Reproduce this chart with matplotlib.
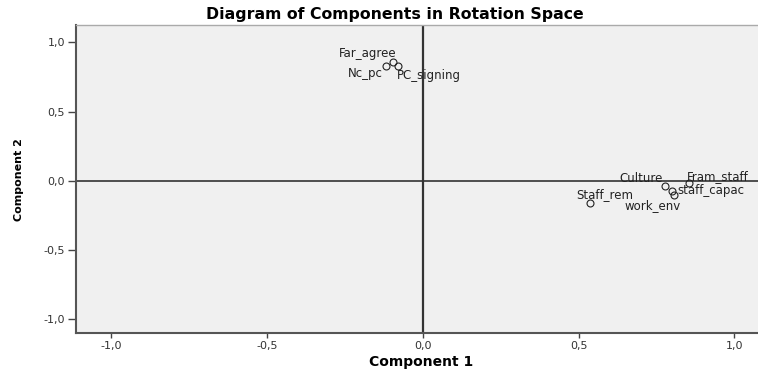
import matplotlib
matplotlib.use("Agg")
import matplotlib.pyplot as plt

# Data
labels = ["Far_agree", "Nc_pc", "PC_signing", "Culture", "Fram_staff",
          "staff_capac", "Staff_rem", "work_env"]
comp1 = [-0.097, -0.117, -0.080, 0.778, 0.855, 0.800, 0.537, 0.807]
comp2 = [0.859, 0.831, 0.826, -0.040, -0.017, -0.074, -0.161, -0.105]
ticks = [-1.0, -0.5, 0.0, 0.5, 1.0]
tick_labels = ["-1,0", "-0,5", "0,0", "0,5", "1,0"]

# label placement (pixel offsets, alignment)
label_offsets = [(4, 8), (-4, -8), (-1, -9), (-3, 8), (-2, 7), (5, 0), (-14, 8), (6, -10)]
label_ha = ["right", "right", "left", "right", "left", "left", "left", "right"]

W, H = 758, 372
fig = plt.figure(figsize=(W / 100, H / 100), dpi=100)
ax = fig.add_axes([76 / W, 1 - 333 / H, 1 - 76 / W, (333 - 25) / H])
ax.set_facecolor("#f0f0f0")

ax.set_xlim(-1.1125, 1.0755)
ax.set_ylim(-1.10, 1.125)

ax.axhline(0, color="#333333", lw=1.2, zorder=1)
ax.axvline(0, color="#333333", lw=1.6, zorder=1)

ax.plot(comp1, comp2, linestyle="none", marker="o", markersize=5,
        markerfacecolor="none", markeredgecolor="#222222", markeredgewidth=0.8, zorder=3)

for lab, x, y, off, ha in zip(labels, comp1, comp2, label_offsets, label_ha):
    ax.annotate(lab, (x, y), xytext=off, textcoords="offset pixels",
                ha=ha, va="center", fontsize=8.5, color="#222222",
                family="DejaVu Sans", zorder=4)

ax.set_xticks(ticks)
ax.set_xticklabels(tick_labels)
ax.set_yticks(ticks)
ax.set_yticklabels(tick_labels)
ax.tick_params(axis="x", length=3.5, width=1, color="#444444", labelsize=8,
               labelcolor="#333333", pad=2)
ax.tick_params(axis="y", length=6, width=1, color="#444444", labelsize=8,
               labelcolor="#333333", pad=2)

for s in ["left", "bottom"]:
    ax.spines[s].set_color("#555555")
    ax.spines[s].set_linewidth(1.5)
ax.spines["top"].set_color("#aaaaaa")
ax.spines["top"].set_linewidth(1.0)
ax.spines["right"].set_visible(False)

fig.text(421 / W, 1 - 362 / H, "Component 1", ha="center", va="center",
         fontsize=10, fontweight="bold", family="DejaVu Sans")
fig.text(19 / W, 1 - 180 / H, "Component 2", ha="center", va="center",
         rotation=90, fontsize=8, fontweight="bold", family="DejaVu Sans")
fig.text(395 / W, 1 - 14 / H, "Diagram of Components in Rotation Space",
         ha="center", va="center", fontsize=11.3, fontweight="bold",
         family="DejaVu Sans")

fig.savefig("out.png", dpi=100)
